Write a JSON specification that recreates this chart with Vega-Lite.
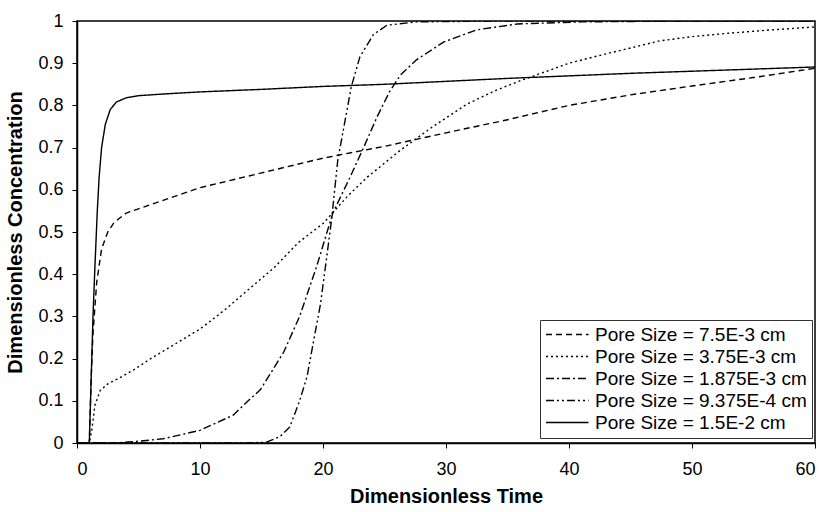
{
  "$schema": "https://vega.github.io/schema/vega-lite/v6.json",
  "width": 738,
  "height": 422,
  "autosize": "none",
  "padding": {"left": 77, "top": 21, "right": 13, "bottom": 69},
  "config": {
    "view": {"stroke": "black", "strokeWidth": 1.5},
    "font": "Liberation Sans",
    "axis": {
      "grid": false,
      "domainColor": "black",
      "domainWidth": 1.5,
      "tickColor": "black",
      "tickSize": 5,
      "labelColor": "black",
      "labelFont": "Liberation Sans",
      "labelFontSize": 18,
      "titleFont": "Liberation Sans",
      "titleFontSize": 20,
      "titleFontWeight": "bold",
      "titleColor": "black"
    }
  },
  "data": {
    "values": [
      {"series": "Pore Size = 7.5E-3 cm", "t": 0, "c": 0},
      {"series": "Pore Size = 7.5E-3 cm", "t": 1.0, "c": 0},
      {"series": "Pore Size = 7.5E-3 cm", "t": 1.15, "c": 0.15},
      {"series": "Pore Size = 7.5E-3 cm", "t": 1.3, "c": 0.26},
      {"series": "Pore Size = 7.5E-3 cm", "t": 1.6, "c": 0.38},
      {"series": "Pore Size = 7.5E-3 cm", "t": 2.0, "c": 0.46},
      {"series": "Pore Size = 7.5E-3 cm", "t": 2.5, "c": 0.5},
      {"series": "Pore Size = 7.5E-3 cm", "t": 3, "c": 0.522},
      {"series": "Pore Size = 7.5E-3 cm", "t": 4, "c": 0.545},
      {"series": "Pore Size = 7.5E-3 cm", "t": 5, "c": 0.555},
      {"series": "Pore Size = 7.5E-3 cm", "t": 7.5, "c": 0.58},
      {"series": "Pore Size = 7.5E-3 cm", "t": 10, "c": 0.605},
      {"series": "Pore Size = 7.5E-3 cm", "t": 15, "c": 0.64},
      {"series": "Pore Size = 7.5E-3 cm", "t": 20, "c": 0.675},
      {"series": "Pore Size = 7.5E-3 cm", "t": 25, "c": 0.703},
      {"series": "Pore Size = 7.5E-3 cm", "t": 30, "c": 0.735},
      {"series": "Pore Size = 7.5E-3 cm", "t": 35, "c": 0.766},
      {"series": "Pore Size = 7.5E-3 cm", "t": 40, "c": 0.8},
      {"series": "Pore Size = 7.5E-3 cm", "t": 45, "c": 0.825},
      {"series": "Pore Size = 7.5E-3 cm", "t": 50, "c": 0.846},
      {"series": "Pore Size = 7.5E-3 cm", "t": 55, "c": 0.866},
      {"series": "Pore Size = 7.5E-3 cm", "t": 60, "c": 0.888},

      {"series": "Pore Size = 3.75E-3 cm", "t": 0, "c": 0},
      {"series": "Pore Size = 3.75E-3 cm", "t": 1.0, "c": 0},
      {"series": "Pore Size = 3.75E-3 cm", "t": 1.2, "c": 0.03},
      {"series": "Pore Size = 3.75E-3 cm", "t": 1.46, "c": 0.09},
      {"series": "Pore Size = 3.75E-3 cm", "t": 1.9, "c": 0.125},
      {"series": "Pore Size = 3.75E-3 cm", "t": 2.5, "c": 0.14},
      {"series": "Pore Size = 3.75E-3 cm", "t": 3.5, "c": 0.155},
      {"series": "Pore Size = 3.75E-3 cm", "t": 4.6, "c": 0.173},
      {"series": "Pore Size = 3.75E-3 cm", "t": 6, "c": 0.2},
      {"series": "Pore Size = 3.75E-3 cm", "t": 8, "c": 0.235},
      {"series": "Pore Size = 3.75E-3 cm", "t": 10, "c": 0.27},
      {"series": "Pore Size = 3.75E-3 cm", "t": 12, "c": 0.315},
      {"series": "Pore Size = 3.75E-3 cm", "t": 14, "c": 0.365},
      {"series": "Pore Size = 3.75E-3 cm", "t": 16, "c": 0.415},
      {"series": "Pore Size = 3.75E-3 cm", "t": 18, "c": 0.475},
      {"series": "Pore Size = 3.75E-3 cm", "t": 20, "c": 0.52},
      {"series": "Pore Size = 3.75E-3 cm", "t": 22, "c": 0.585},
      {"series": "Pore Size = 3.75E-3 cm", "t": 23.6, "c": 0.63},
      {"series": "Pore Size = 3.75E-3 cm", "t": 26.3, "c": 0.694},
      {"series": "Pore Size = 3.75E-3 cm", "t": 28.9, "c": 0.749},
      {"series": "Pore Size = 3.75E-3 cm", "t": 31.7, "c": 0.803},
      {"series": "Pore Size = 3.75E-3 cm", "t": 34, "c": 0.835},
      {"series": "Pore Size = 3.75E-3 cm", "t": 36, "c": 0.858},
      {"series": "Pore Size = 3.75E-3 cm", "t": 40, "c": 0.9},
      {"series": "Pore Size = 3.75E-3 cm", "t": 43, "c": 0.922},
      {"series": "Pore Size = 3.75E-3 cm", "t": 47.4, "c": 0.953},
      {"series": "Pore Size = 3.75E-3 cm", "t": 50, "c": 0.963},
      {"series": "Pore Size = 3.75E-3 cm", "t": 53, "c": 0.971},
      {"series": "Pore Size = 3.75E-3 cm", "t": 56, "c": 0.978},
      {"series": "Pore Size = 3.75E-3 cm", "t": 60, "c": 0.986},

      {"series": "Pore Size = 1.875E-3 cm", "t": 0, "c": 0},
      {"series": "Pore Size = 1.875E-3 cm", "t": 3, "c": 0},
      {"series": "Pore Size = 1.875E-3 cm", "t": 4.6, "c": 0.003},
      {"series": "Pore Size = 1.875E-3 cm", "t": 7, "c": 0.01},
      {"series": "Pore Size = 1.875E-3 cm", "t": 10, "c": 0.03},
      {"series": "Pore Size = 1.875E-3 cm", "t": 12.7, "c": 0.066},
      {"series": "Pore Size = 1.875E-3 cm", "t": 14.1, "c": 0.105},
      {"series": "Pore Size = 1.875E-3 cm", "t": 14.9, "c": 0.126},
      {"series": "Pore Size = 1.875E-3 cm", "t": 16.8, "c": 0.215},
      {"series": "Pore Size = 1.875E-3 cm", "t": 18.1, "c": 0.3},
      {"series": "Pore Size = 1.875E-3 cm", "t": 19.5, "c": 0.42},
      {"series": "Pore Size = 1.875E-3 cm", "t": 20.8, "c": 0.545},
      {"series": "Pore Size = 1.875E-3 cm", "t": 22.2, "c": 0.63},
      {"series": "Pore Size = 1.875E-3 cm", "t": 23.3, "c": 0.7},
      {"series": "Pore Size = 1.875E-3 cm", "t": 24.4, "c": 0.773},
      {"series": "Pore Size = 1.875E-3 cm", "t": 25.4, "c": 0.832},
      {"series": "Pore Size = 1.875E-3 cm", "t": 26.3, "c": 0.872},
      {"series": "Pore Size = 1.875E-3 cm", "t": 27.6, "c": 0.908},
      {"series": "Pore Size = 1.875E-3 cm", "t": 29.8, "c": 0.95},
      {"series": "Pore Size = 1.875E-3 cm", "t": 32.5, "c": 0.979},
      {"series": "Pore Size = 1.875E-3 cm", "t": 35.8, "c": 0.993},
      {"series": "Pore Size = 1.875E-3 cm", "t": 41, "c": 0.998},
      {"series": "Pore Size = 1.875E-3 cm", "t": 50, "c": 1.0},
      {"series": "Pore Size = 1.875E-3 cm", "t": 60, "c": 1.0},

      {"series": "Pore Size = 9.375E-4 cm", "t": 0, "c": 0},
      {"series": "Pore Size = 9.375E-4 cm", "t": 14, "c": 0},
      {"series": "Pore Size = 9.375E-4 cm", "t": 15.4, "c": 0.002},
      {"series": "Pore Size = 9.375E-4 cm", "t": 16.5, "c": 0.015},
      {"series": "Pore Size = 9.375E-4 cm", "t": 17.3, "c": 0.038},
      {"series": "Pore Size = 9.375E-4 cm", "t": 18.1, "c": 0.1},
      {"series": "Pore Size = 9.375E-4 cm", "t": 18.7, "c": 0.157},
      {"series": "Pore Size = 9.375E-4 cm", "t": 19.2, "c": 0.236},
      {"series": "Pore Size = 9.375E-4 cm", "t": 19.8, "c": 0.33},
      {"series": "Pore Size = 9.375E-4 cm", "t": 20.3, "c": 0.44},
      {"series": "Pore Size = 9.375E-4 cm", "t": 20.7, "c": 0.53},
      {"series": "Pore Size = 9.375E-4 cm", "t": 21.2, "c": 0.67},
      {"series": "Pore Size = 9.375E-4 cm", "t": 21.8, "c": 0.765},
      {"series": "Pore Size = 9.375E-4 cm", "t": 22.3, "c": 0.844},
      {"series": "Pore Size = 9.375E-4 cm", "t": 23.0, "c": 0.915},
      {"series": "Pore Size = 9.375E-4 cm", "t": 24.1, "c": 0.968},
      {"series": "Pore Size = 9.375E-4 cm", "t": 25.2, "c": 0.99},
      {"series": "Pore Size = 9.375E-4 cm", "t": 27.6, "c": 0.998},
      {"series": "Pore Size = 9.375E-4 cm", "t": 35, "c": 1.0},
      {"series": "Pore Size = 9.375E-4 cm", "t": 60, "c": 1.0},

      {"series": "Pore Size = 1.5E-2 cm", "t": 0, "c": 0},
      {"series": "Pore Size = 1.5E-2 cm", "t": 1.0, "c": 0},
      {"series": "Pore Size = 1.5E-2 cm", "t": 1.15, "c": 0.15},
      {"series": "Pore Size = 1.5E-2 cm", "t": 1.3, "c": 0.3},
      {"series": "Pore Size = 1.5E-2 cm", "t": 1.46, "c": 0.42},
      {"series": "Pore Size = 1.5E-2 cm", "t": 1.65, "c": 0.55},
      {"series": "Pore Size = 1.5E-2 cm", "t": 1.8, "c": 0.63},
      {"series": "Pore Size = 1.5E-2 cm", "t": 2.0, "c": 0.7},
      {"series": "Pore Size = 1.5E-2 cm", "t": 2.3, "c": 0.755},
      {"series": "Pore Size = 1.5E-2 cm", "t": 2.7, "c": 0.79},
      {"series": "Pore Size = 1.5E-2 cm", "t": 3.2, "c": 0.808},
      {"series": "Pore Size = 1.5E-2 cm", "t": 4, "c": 0.818},
      {"series": "Pore Size = 1.5E-2 cm", "t": 5, "c": 0.823},
      {"series": "Pore Size = 1.5E-2 cm", "t": 7, "c": 0.827},
      {"series": "Pore Size = 1.5E-2 cm", "t": 10, "c": 0.832},
      {"series": "Pore Size = 1.5E-2 cm", "t": 15, "c": 0.838},
      {"series": "Pore Size = 1.5E-2 cm", "t": 20, "c": 0.845},
      {"series": "Pore Size = 1.5E-2 cm", "t": 25, "c": 0.85},
      {"series": "Pore Size = 1.5E-2 cm", "t": 30, "c": 0.857},
      {"series": "Pore Size = 1.5E-2 cm", "t": 35, "c": 0.864},
      {"series": "Pore Size = 1.5E-2 cm", "t": 40, "c": 0.87},
      {"series": "Pore Size = 1.5E-2 cm", "t": 45, "c": 0.876},
      {"series": "Pore Size = 1.5E-2 cm", "t": 50, "c": 0.881},
      {"series": "Pore Size = 1.5E-2 cm", "t": 55, "c": 0.886},
      {"series": "Pore Size = 1.5E-2 cm", "t": 60, "c": 0.891}
    ]
  },
  "mark": {"type": "line", "strokeWidth": 1.4, "color": "black", "clip": true},
  "encoding": {
    "x": {
      "field": "t",
      "type": "quantitative",
      "scale": {"domain": [0, 60], "nice": false},
      "axis": {
        "title": "Dimensionless Time",
        "values": [0, 10, 20, 30, 40, 50, 60],
        "labelPadding": 12,
        "titlePadding": 8
      }
    },
    "y": {
      "field": "c",
      "type": "quantitative",
      "scale": {"domain": [0, 1], "nice": false},
      "axis": {
        "title": "Dimensionless Concentration",
        "values": [0, 0.1, 0.2, 0.3, 0.4, 0.5, 0.6, 0.7, 0.8, 0.9, 1],
        "format": "~g",
        "labelPadding": 9,
        "titlePadding": 12
      }
    },
    "strokeDash": {
      "field": "series",
      "type": "nominal",
      "scale": {
        "domain": ["Pore Size = 7.5E-3 cm", "Pore Size = 3.75E-3 cm", "Pore Size = 1.875E-3 cm", "Pore Size = 9.375E-4 cm", "Pore Size = 1.5E-2 cm"],
        "range": [[6, 4], [2, 3], [8, 3, 2, 3], [8, 3, 2, 3, 2, 3], [1, 0]]
      },
      "legend": {
        "orient": "none",
        "legendX": 463,
        "legendY": 299,
        "title": null,
        "symbolType": "M-1,0H4",
        "symbolSize": 289,
        "symbolStrokeWidth": 1.3,
        "symbolStrokeColor": "black",
        "symbolFillColor": "transparent",
        "labelFont": "Liberation Sans",
        "labelFontSize": 19,
        "labelLineHeight": 16,
        "labelColor": "black",
        "labelOffset": 31,
        "labelLimit": 400,
        "rowPadding": 2,
        "padding": 5,
        "strokeColor": "#333",
        "fillColor": "white"
      }
    }
  }
}
